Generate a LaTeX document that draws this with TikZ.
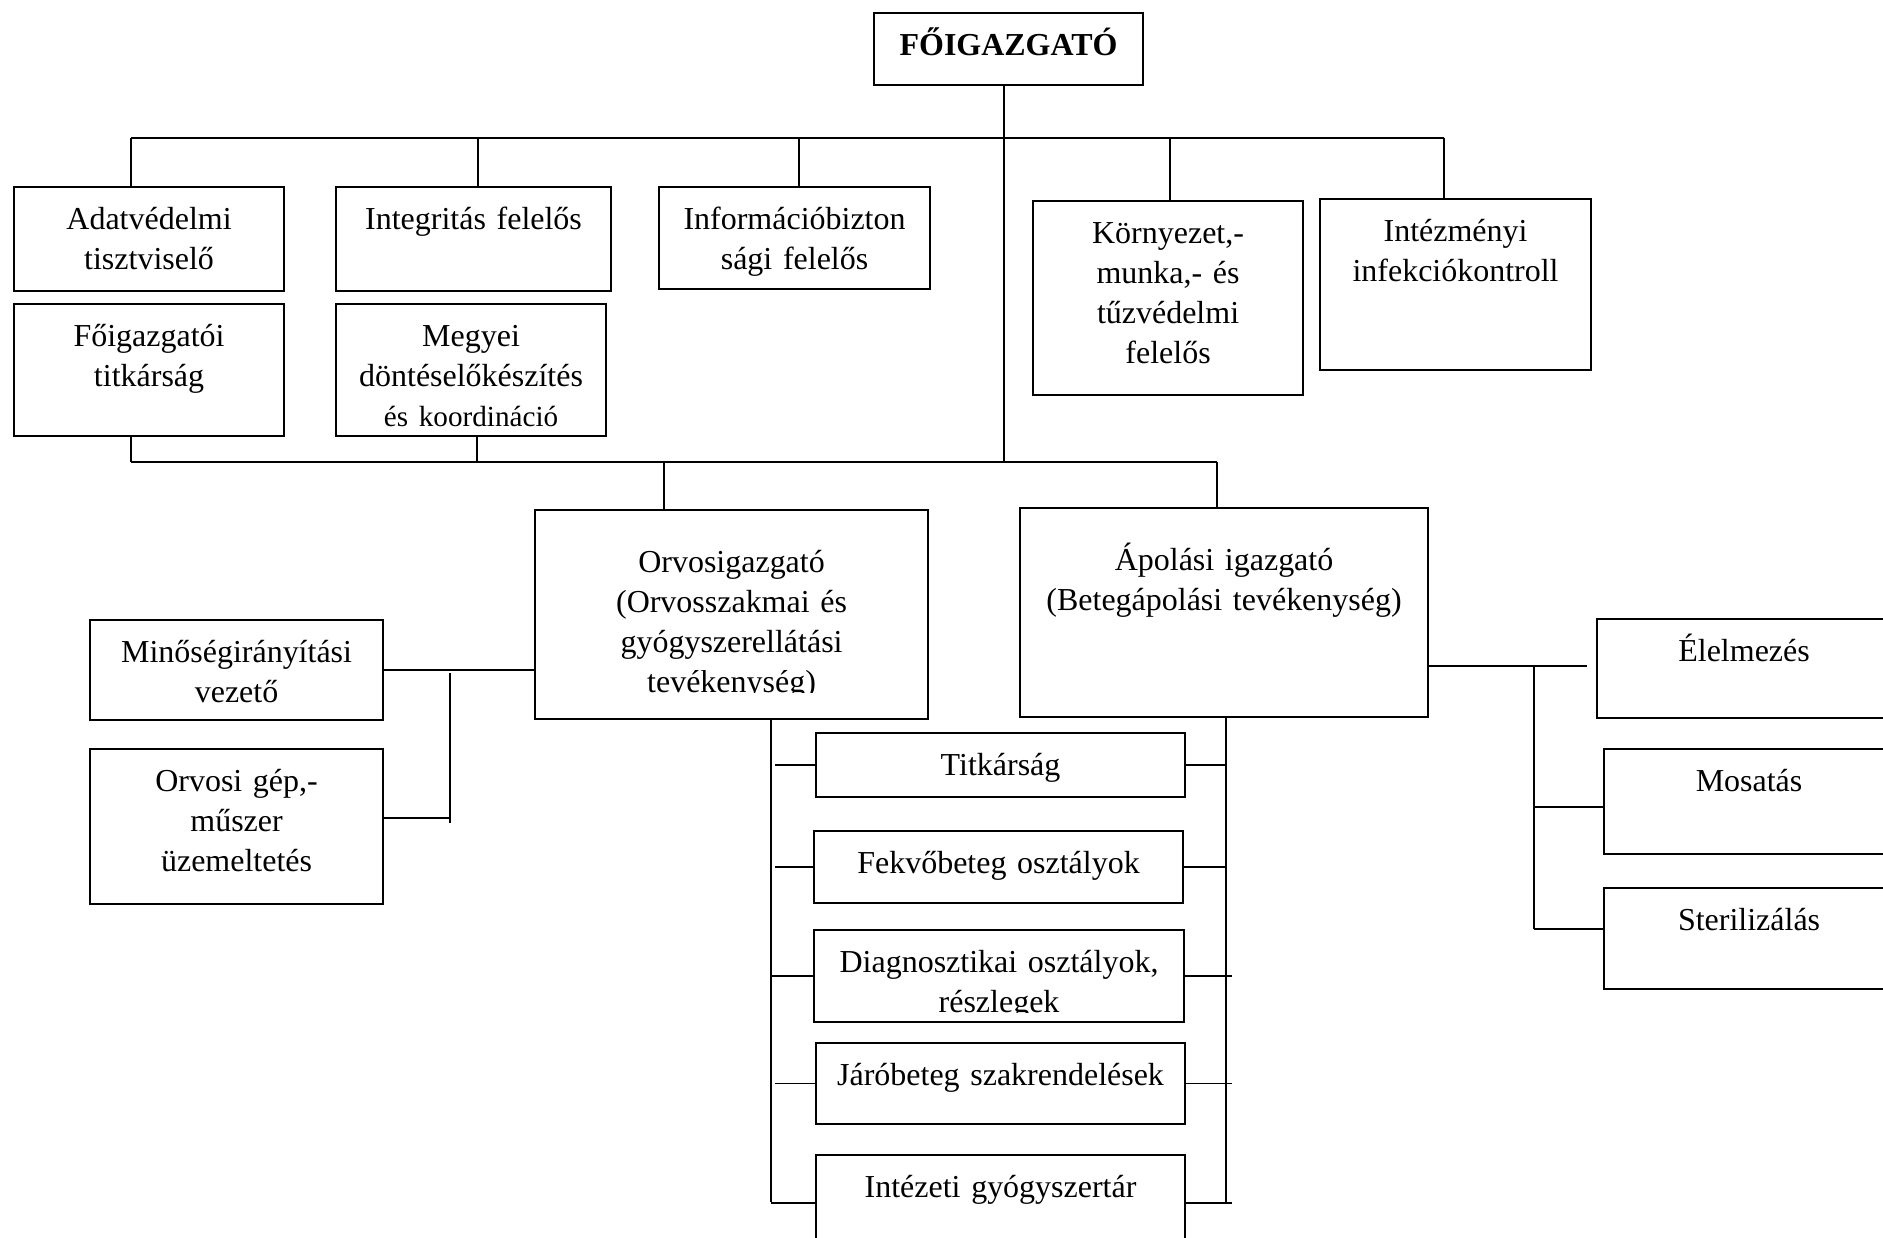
\documentclass[tikz,border=0pt]{standalone}
\usepackage{fontspec}
\usepackage{trimclip}
\setmainfont{Liberation Serif}
\newcommand{\cutline}[1]{\clipbox{0pt {\depth} 0pt 0pt}{#1}}

\begin{document}
\begin{tikzpicture}
  [%
 x=0.1mm, y=-0.1mm,
 unit/.style={
  rectangle,
  anchor=north west,
  line width=0.6pt, % border
 draw=black,
  inner sep=0pt,
  text height=4.2mm,
  align=center,
 font=\fontsize{9.1pt}{11.4pt}\selectfont},
 chief/.style={unit, text height=6.2mm},
 bus/.style={line width=0.6pt},
 link/.style={line width=0.45pt}]
\useasboundingbox (0,0) rectangle (1883,1238);
\clip (0,0) rectangle (1883,1238);
% top level
\node (fo) [unit, text width=26.9mm, text depth=3mm, font=\fontsize{9.1pt}{11.4pt}\selectfont\bfseries] at (873,12) {FŐIGAZGATÓ};
\node (adat) [unit, text width=27mm, text depth=6.2mm] at (13,186) {Adatvédelmi\\ tisztviselő};
\node (integ) [unit, text width=27.5mm, text depth=6.2mm] at (335,186) {Integritás felelős};
\node (infob) [unit, text width=27.1mm, text depth=6mm] at (658,186) {Információbizton\\ sági felelős};
\node (korny) [unit, text width=27mm, text depth=15.2mm] at (1032,200) {Környezet,-\\ munka,- és\\ tűzvédelmi\\ felelős};
\node (infek) [unit, text width=27.1mm, text depth=12.9mm] at (1319,198) {Intézményi\\ infekciókontroll};
\node (fotitk) [unit, text width=27mm, text depth=9mm] at (13,303) {Főigazgatói\\ titkárság};
\node (megyei) [unit, text width=27mm, text depth=9mm] at (335,303) {Megyei\\ döntéselőkészítés\\ {\fontsize{8.3pt}{10pt}\selectfont és koordináció}};
% directors
\node (orvig) [chief, text width=39.3mm, text depth=14.7mm] at (534,509) {Orvosigazgató\\ (Orvosszakmai és\\ gyógyszerellátási\\ \cutline{tevékenység)}};
\node (apol) [chief, text width=40.8mm, text depth=14.7mm] at (1019,507) {Ápolási igazgató\\ (Betegápolási tevékenység)};
\node (minos) [unit, text width=29.3mm, text depth=5.8mm] at (89,619) {Minőségirányítási\\ vezető};
\node (gep) [unit, text width=29.3mm, text depth=11.3mm] at (89,748) {Orvosi gép,-\\ műszer\\ üzemeltetés};
% middle column
\node (titk) [unit, text width=36.9mm, text depth=2.2mm] at (815,732) {Titkárság};
\node (fekvo) [unit, text width=36.9mm, text depth=3mm] at (813,830) {Fekvőbeteg osztályok};
\node (diag) [unit, text width=37mm, text depth=5mm] at (813,929) {Diagnosztikai osztályok,\\ \cutline{részlegek}};
\node (jaro) [unit, text width=36.9mm, text depth=3.9mm] at (815,1042) {Járóbeteg szakrendelések};
\node (intgy) [unit, text width=36.9mm, text depth=5.4mm] at (815,1154) {Intézeti gyógyszertár};
% right column
\node (elel) [unit, text width=29.4mm, text depth=5.7mm] at (1596,618) {Élelmezés};
\node (mosat) [unit, text width=29mm, text depth=6.3mm] at (1603,748) {Mosatás};
\node (steril) [unit, text width=29mm, text depth=5.9mm] at (1603,887) {Sterilizálás};
% bus points
\coordinate (t1) at (131,138);
\coordinate (t2) at (478,138);
\coordinate (t3) at (799,138);
\coordinate (t5) at (1170,138);
\coordinate (t6) at (1444,138);
\coordinate (b1) at (131,462);
\coordinate (b2) at (477,462);
\coordinate (b3) at (664,462);
\coordinate (hub) at (1004,462);
\coordinate (b4) at (1217,462);
\coordinate (g1) at (450,673);
\coordinate (g2) at (450,823);
\coordinate (g3) at (450,818);
\coordinate (lb) at (771,1202);
\coordinate (lg) at (775,1202);
\coordinate (rb) at (1226,1202);
\coordinate (rt) at (1232,1202);
\coordinate (r1) at (1587,666);
\coordinate (rv) at (1534,666);
\coordinate (rm) at (1534,807);
\coordinate (rv2) at (1534,929);
% connectors
\draw[link] (fo.south -| hub) -- (hub);
\draw[bus] (t1) -- (t6);
\draw[link] (t1) -- (t1 |- adat.north);
\draw[link] (t2) -- (t2 |- integ.north);
\draw[link] (t3) -- (t3 |- infob.north);
\draw[link] (t5) -- (t5 |- korny.north);
\draw[link] (t6) -- (t6 |- infek.north);
\draw[bus] (b1) -- (b4);
\draw[link] (b1) -- (b1 |- fotitk.south);
\draw[link] (b2) -- (b2 |- megyei.south);
\draw[link] (b3) -- (b3 |- orvig.north);
\draw[link] (b4) -- (b4 |- apol.north);
\draw[bus] (minos.east) -- (minos.east -| orvig.west);
\draw[link] (g1) -- (g2);
\draw[bus] (g3) -- (g3 -| gep.east);
\draw[link] (lb |- orvig.south) -- (lb);
\draw[link] (rb |- apol.south) -- (rb);
\draw[link] (titk.west) -- (titk.west -| lg);
\draw[link] (fekvo.west) -- (fekvo.west -| lg);
\draw[link] (diag.west) -- (diag.west -| lb);
\draw[link] (jaro.west) -- (jaro.west -| lg);
\draw[link] (intgy.west) -- (intgy.west -| lb);
\draw[link] (titk.east) -- (titk.east -| rb);
\draw[link] (fekvo.east) -- (fekvo.east -| rb);
\draw[link] (diag.east) -- (diag.east -| rt);
\draw[link] (jaro.east) -- (jaro.east -| rt);
\draw[link] (intgy.east) -- (intgy.east -| rt);
\draw[link] (r1 -| apol.east) -- (r1);
\draw[link] (rv) -- (rv2);
\draw[link] (rm) -- (rm -| mosat.west);
\draw[link] (rv2) -- (rv2 -| steril.west);
\end{tikzpicture}
\end{document}
